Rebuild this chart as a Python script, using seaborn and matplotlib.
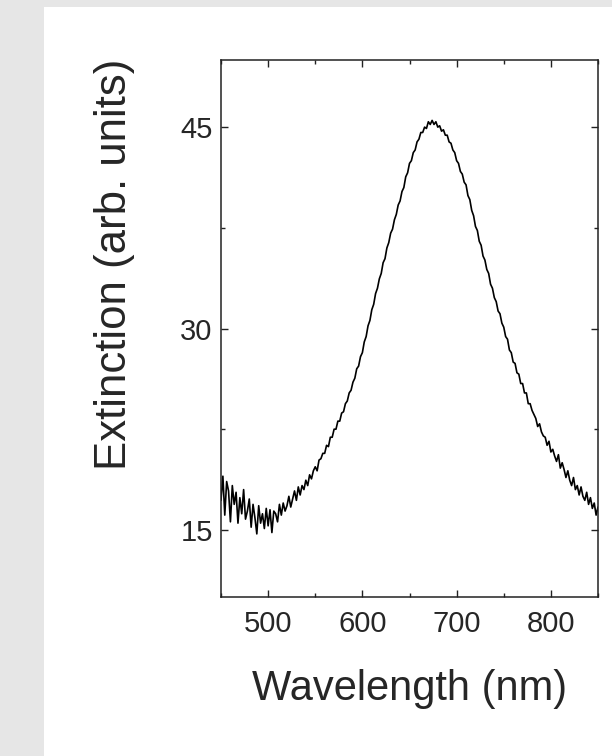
"""
Extinction spectrum (arb. units) vs wavelength, single noisy plasmon peak.
Values read off the reference picture at a 2 nm grid.
"""
import numpy as np
import pandas as pd
import matplotlib
matplotlib.use('Agg')
import matplotlib.pyplot as plt
import matplotlib.ticker as mticker
from matplotlib.patches import Rectangle
import seaborn as sns

# ── Data ──────────────────────────────────────────────────────────────────────
WL_START, WL_STOP, WL_STEP = 450, 850, 2   # spectrometer grid (nm)

ext_450_498 = [17.2, 19.0, 16.1, 18.6, 17.9, 15.6, 18.3, 16.9, 17.8, 15.5,
               17.4, 16.2, 18.0, 15.8, 16.4, 17.3, 15.2, 16.9, 15.9, 14.7,
               16.8, 15.5, 16.2, 15.1, 16.6]
ext_500_558 = [15.3, 16.5, 14.8, 16.4, 16.2, 15.6, 16.9, 16.1, 17.0, 16.4,
               16.8, 17.5, 16.7, 17.3, 17.9, 17.2, 18.2, 17.6, 18.3, 18.0,
               18.7, 18.3, 19.1, 18.8, 19.4, 19.7, 19.4, 20.2, 20.3, 20.7]
ext_560_638 = [20.7, 21.3, 21.2, 21.9, 21.9, 22.5, 22.5, 23.1, 23.1, 23.7,
               23.8, 24.4, 24.6, 25.2, 25.4, 26.0, 26.3, 27.0, 27.2, 27.9,
               28.2, 29.0, 29.4, 30.2, 30.6, 31.4, 31.8, 32.6, 33.0, 33.7,
               34.1, 34.9, 35.2, 36.0, 36.4, 37.1, 37.4, 38.1, 38.5, 39.2]
ext_640_718 = [39.5, 40.2, 40.5, 41.3, 41.6, 42.3, 42.5, 43.1, 43.3, 43.9,
               44.1, 44.6, 44.6, 45.0, 44.9, 45.4, 45.2, 45.5, 45.2, 45.4,
               45.0, 45.1, 44.7, 44.8, 44.4, 44.4, 43.9, 43.8, 43.3, 43.1,
               42.5, 42.3, 41.7, 41.5, 40.9, 40.7, 39.9, 39.6, 38.8, 38.4]
ext_720_778 = [37.6, 37.3, 36.5, 36.2, 35.4, 35.1, 34.4, 34.1, 33.3, 33.0,
               32.3, 32.0, 31.3, 31.1, 30.4, 30.1, 29.4, 29.2, 28.4, 28.2,
               27.5, 27.4, 26.7, 26.6, 25.9, 25.9, 25.2, 25.2, 24.4, 24.4]
ext_780_850 = [23.9, 23.6, 23.3, 22.7, 22.9, 22.3, 22.0, 21.9, 21.3, 21.6,
               20.8, 21.0, 20.5, 20.1, 20.6, 19.6, 20.0, 19.5, 18.9, 19.4,
               18.7, 18.3, 18.9, 18.0, 18.3, 17.6, 18.2, 17.5, 17.2, 17.8,
               16.9, 17.4, 16.6, 17.0, 16.1, 16.7]

extinction = (ext_450_498 + ext_500_558 + ext_560_638 +
              ext_640_718 + ext_720_778 + ext_780_850)
wavelength = np.arange(WL_START, WL_STOP + 1, WL_STEP)

x_ticks = [500, 600, 700, 800]
y_ticks = [15, 30, 45]

df = pd.DataFrame({'Wavelength': wavelength, 'Extinction': extinction})

# ── Style ─────────────────────────────────────────────────────────────────────
sns.set_style('ticks')
plt.rcParams['font.family'] = ['Liberation Sans', 'DejaVu Sans']
plt.rcParams['xtick.direction'] = 'in'
plt.rcParams['ytick.direction'] = 'in'

fig = plt.figure(figsize=(6.12, 7.56), dpi=100, facecolor='#e6e6e6')
# white slide panel behind the plot
fig.patches.append(Rectangle((44 / 612, 0), 1 - 44 / 612, 1 - 7 / 756,
                             transform=fig.transFigure, facecolor='white',
                             edgecolor='none', zorder=-10))

ax = fig.add_axes([221 / 612, 159 / 756, 377 / 612, 537 / 756])
ax.set_zorder(2)
ax.set_facecolor('white')

sns.lineplot(data=df, x='Wavelength', y='Extinction', ax=ax,
             color='black', linewidth=1.2, estimator=None, sort=False)

ax.set_xlim(450, 850)
ax.set_ylim(10, 50)
ax.set_xticks(x_ticks)
ax.set_yticks(y_ticks)
ax.xaxis.set_minor_locator(mticker.MultipleLocator(50))
ax.yaxis.set_minor_locator(mticker.MultipleLocator(7.5))

ax.tick_params(which='both', top=True, right=True, width=1.0, color='#222222')
ax.tick_params(which='major', length=5)
ax.tick_params(which='minor', length=3)
ax.tick_params(axis='x', which='major', labelsize=21, pad=9)
ax.tick_params(axis='y', which='major', labelsize=21, pad=6)
for sp in ax.spines.values():
    sp.set_linewidth(1.1)
    sp.set_color('#222222')

ax.set_xlabel('Wavelength (nm)', fontsize=30, va='top')
ax.set_ylabel('Extinction (arb. units)', fontsize=31.5)
ax.xaxis.set_label_coords(0.5, -0.135)
ax.yaxis.set_label_coords(-0.228, 0.62)

fig.savefig('out.png', dpi=100, facecolor=fig.get_facecolor())
